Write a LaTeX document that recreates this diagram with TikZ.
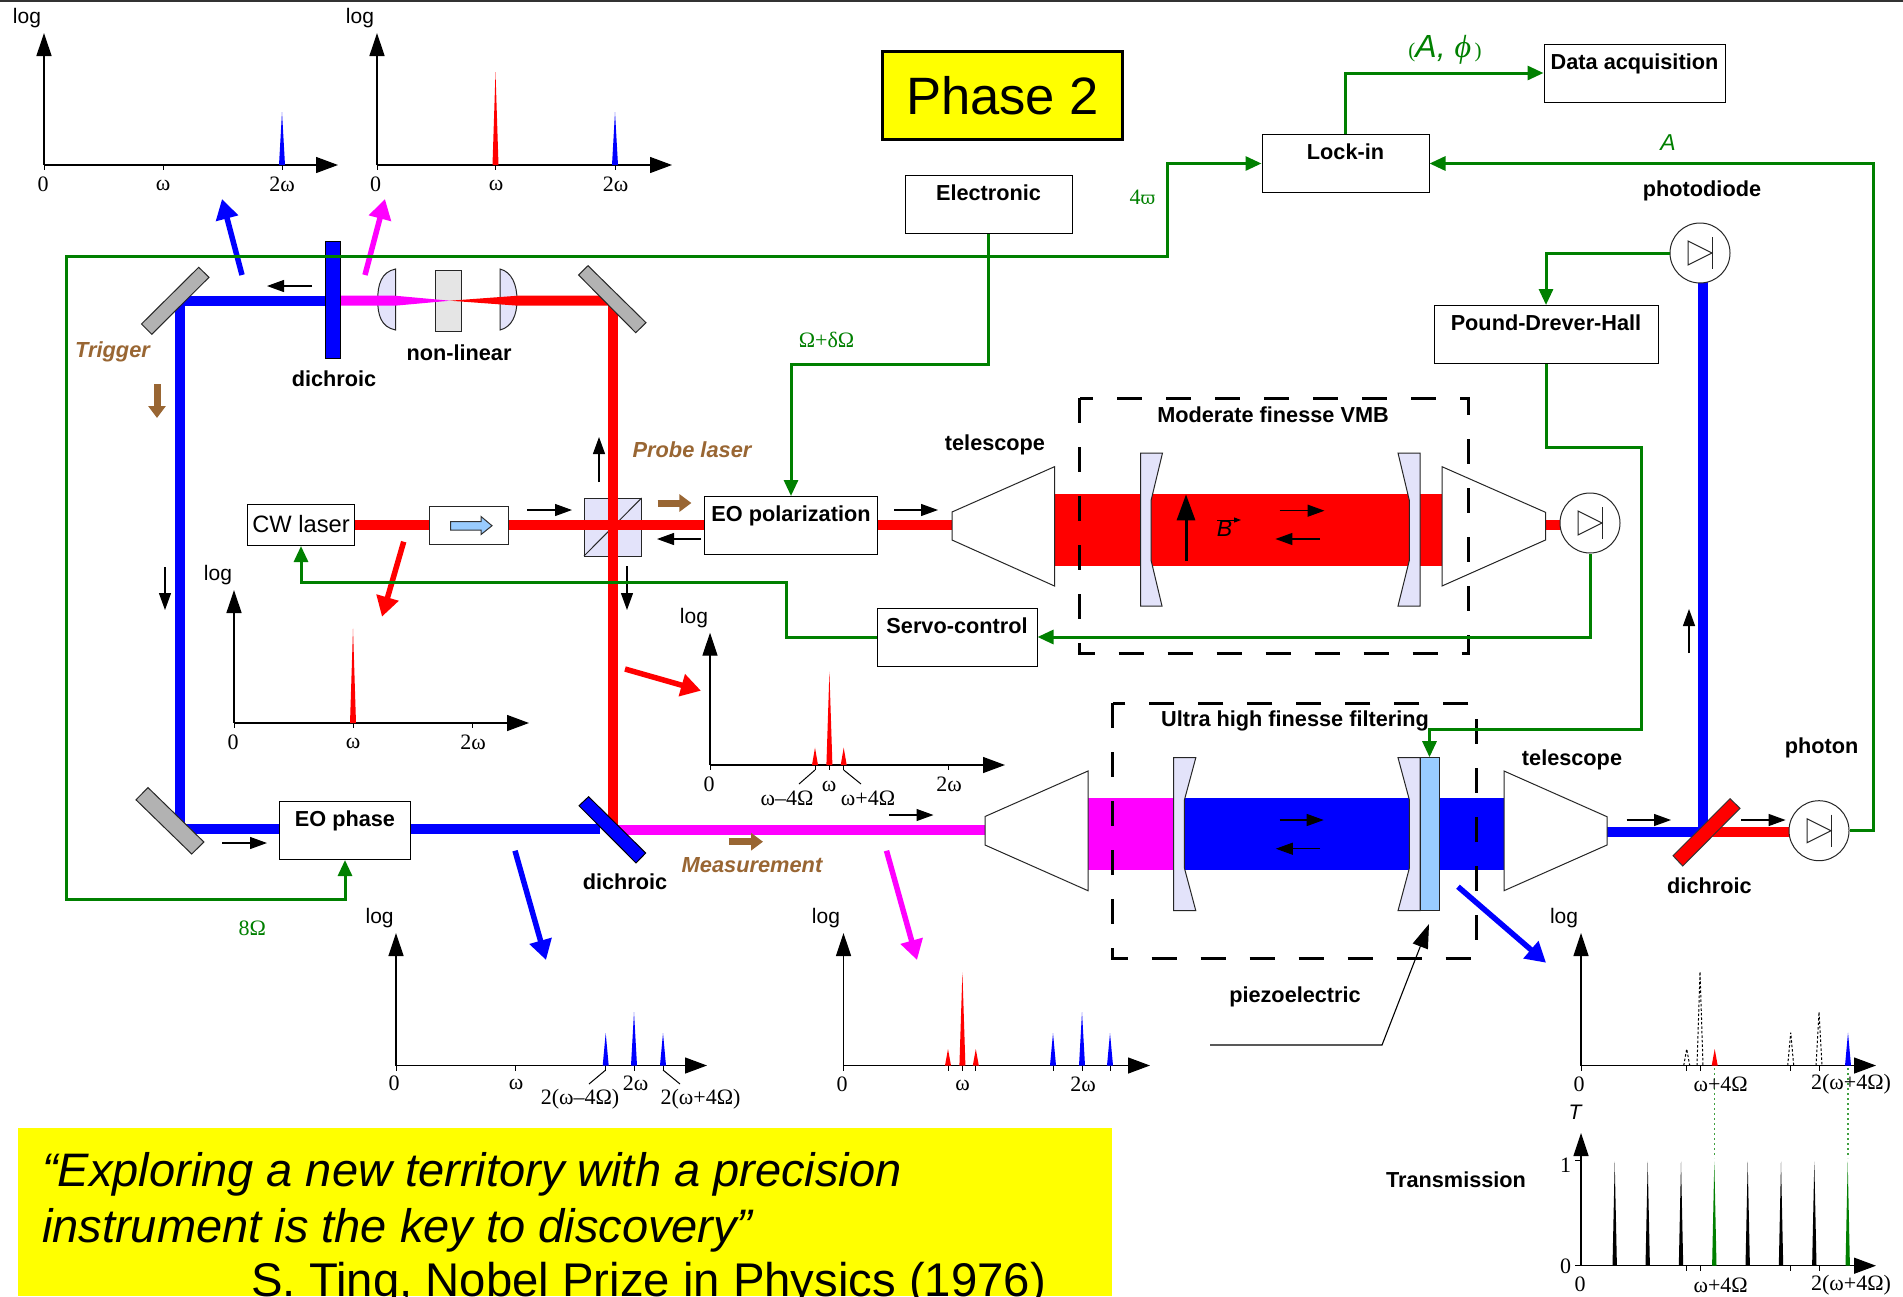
\documentclass[tikz,border=0pt]{standalone}
\usepackage{fontspec}
\setmainfont{Liberation Sans}
\newfontfamily\tms{Liberation Serif}
\newfontfamily\djv{DejaVu Serif}
\usetikzlibrary{arrows.meta,calc}
\definecolor{gr}{RGB}{0,128,0}
\definecolor{brn}{RGB}{153,102,51}
\definecolor{lav}{RGB}{227,227,250}
\definecolor{sky}{RGB}{153,204,255}
\definecolor{mir}{RGB}{178,178,178}
\definecolor{mg}{RGB}{255,0,255}
\definecolor{yl}{RGB}{255,255,0}
\definecolor{rd}{RGB}{255,0,0}
\definecolor{bu}{RGB}{0,0,255}
\tikzset{
 bl/.style={font=\fontsize{21.7}{21.7}\selectfont\bfseries,inner sep=0pt},
 sl/.style={font=\fontsize{21}{21}\selectfont,inner sep=0pt},
 tl/.style={font=\fontsize{22}{22}\selectfont\tms,inner sep=0pt},
 gl/.style={font=\fontsize{22}{22}\selectfont\tms,inner sep=0pt,text=gr},
 brl/.style={font=\fontsize{21.8}{21.8}\selectfont\bfseries\itshape,inner sep=0pt,text=brn},
 boxt/.style={draw=black,fill=white,line width=1pt,inner sep=0pt,font=\fontsize{21.7}{21.7}\selectfont\bfseries,text height=25pt,text depth=33pt},
 beam/.style={line width=10pt},
 sig/.style={draw=gr,line width=3pt,arrows={-{Triangle[length=16pt,width=14pt]}}},
 small/.style={line width=1.2pt,-{Triangle[length=17pt,width=12pt]}},
 big/.style={line width=5.5pt,-{Triangle[length=20pt,width=22pt]}},
 brar/.style={draw=brn,line width=7pt,-{Triangle[length=12pt,width=17pt]}},
 axl/.style={line width=1.3pt},
 optic/.style={draw=black!85,line width=1pt},
 dbox/.style={draw=black,line width=3pt,dash pattern=on 25pt off 24pt},
 dpk/.style={line width=1pt,dash pattern=on 2.5pt off 2pt},
 dio/.style={draw=black!85,fill=white,circle,minimum size=60pt,inner sep=0pt,line width=1pt}
}
\newcommand\pk[5]{\fill[#5] (#1-#4,#2) -- (#1,#3) -- (#1+#4,#2) -- cycle;}
\newcommand\dpeak[4]{\draw[dpk] (#1-3,#2) -- (#1,#3) -- (#1+3,#2);}
\newcommand\tk[2]{\draw[line width=1pt] (#1,#2) -- (#1,#2+5);}
\newcommand\axs[4]{%
 \draw[axl,-{Triangle[length=23pt,width=15pt]}] (#1,#2) -- (#1,#3);
 \draw[axl,-{Triangle[length=22pt,width=16pt]}] (#1,#2) -- (#4,#2);}
\newcommand\dsym[2]{%
 \draw[line width=1pt,black!85] (#1-12,#2-12) -- (#1+12,#2) -- (#1-12,#2+12) -- cycle;
 \draw[line width=1pt,black!85] (#1+12,#2-16) -- (#1+12,#2+16);}
\begin{document}
\begin{tikzpicture}[x=1pt,y=-1pt]
\useasboundingbox (0,0) rectangle (1903,1296);
\clip (0,0) rectangle (1903,1296);
\fill[white] (0,0) rectangle (1903,1296);
\draw[line width=2pt,black!80] (0,0.5) -- (1903,0.5);

% --- components under the beams
\filldraw[fill=lav,optic] (395.5,269) .. controls (381,272) and (377.7,285) .. (377.7,300) .. controls (377.7,315) and (381,327) .. (395.5,330) -- cycle;
\filldraw[fill=lav,optic] (500,269) .. controls (512,272) and (517,285) .. (517,300) .. controls (517,315) and (512,327) .. (500,330) -- cycle;
\filldraw[fill=black!10,optic] (435,270) rectangle (461,331);
\filldraw[fill=lav,optic] (584,498) rectangle (641.6,556);
\draw[optic] (584,556) -- (641.6,498);

% --- beams
\draw[beam,bu] (180,300.7) -- (325,300.7);
\draw[beam,bu] (180,296) -- (180,834);
\fill[mg] (340,295.7) -- (395,295.7) -- (450,300.7) -- (395,305.7) -- (340,305.7) -- cycle;
\fill[rd] (450,300.7) -- (518,295.7) -- (610,295.7) -- (610,305.7) -- (518,305.7) -- cycle;
\draw[beam,rd] (613,296) -- (613,832);
\draw[beam,rd] (354,525) -- (952,525);
\draw[beam,bu] (175,829) -- (600,829);
\draw[beam,mg] (615,830) -- (985,830);
\fill[rd] (1054.5,494) rectangle (1442,565.7);
\draw[beam,rd] (1545,525) -- (1562,525);
\fill[mg] (1088,798) rectangle (1184,870);
\fill[bu] (1184,798) rectangle (1504,870);
\draw[beam,bu] (1607,831.7) -- (1703,831.7);
\draw[beam,rd] (1703,831.7) -- (1790,831.7);
\draw[beam,bu] (1703,280) -- (1703,831);

% --- mirrors and other optics
\filldraw[fill=mir,optic] (198.7,267.3) -- (209,277.3) -- (151.8,334.3) -- (141.5,324) -- cycle;
\filldraw[fill=mir,optic] (588,265.7) -- (578.6,275) -- (635.7,332.7) -- (646,322.7) -- cycle;
\filldraw[fill=mir,optic] (148,787.6) -- (136,799.8) -- (191.7,854) -- (203.9,842) -- cycle;
\filldraw[fill=bu,draw=black,line width=1pt] (325,241) rectangle (340,358);
\filldraw[fill=bu,draw=black,line width=1pt] (588.6,796.7) -- (579,805.7) -- (636,863) -- (645.7,853) -- cycle;
\filldraw[fill=rd,draw=black!80,line width=1pt] (1730,798.7) -- (1740,808.3) -- (1682.7,866) -- (1673,855.7) -- cycle;
% telescopes
\filldraw[fill=white,optic] (952,512) -- (1054.5,466.7) -- (1054.5,586) -- (952,540) -- cycle;
\filldraw[fill=white,optic] (1442,466.7) -- (1545.5,512.3) -- (1545.5,540) -- (1442,586) -- cycle;
\filldraw[fill=white,optic] (985,816.5) -- (1088,771) -- (1088,890.7) -- (985,845) -- cycle;
\filldraw[fill=white,optic] (1504,771) -- (1607,816.7) -- (1607,845) -- (1504,890.7) -- cycle;
% cavity mirrors
\filldraw[fill=lav,optic] (1140.6,453) -- (1162.5,453) -- (1151,500.7) -- (1151,560) -- (1162,606) -- (1140.6,606) -- cycle;
\filldraw[fill=lav,optic] (1398,453) -- (1420,453) -- (1420,606) -- (1398,606) -- (1409.4,560) -- (1409.4,500.7) -- cycle;
\filldraw[fill=lav,optic] (1173.5,757.7) -- (1195.8,757.7) -- (1184.4,800) -- (1184.4,868) -- (1195.8,910.7) -- (1173.5,910.7) -- cycle;
\filldraw[fill=lav,optic] (1398,757.7) -- (1420,757.7) -- (1420,910.7) -- (1398,910.7) -- (1409.4,868) -- (1409.4,800) -- cycle;
\node[draw=black!85,fill=sky,line width=1pt,inner sep=0pt,minimum width=19pt,minimum height=153pt] (piezo) at (1429.5,834.2) {};

% --- boxes
\node[boxt,minimum width=167pt] (elec) at (988.5,204) {Electronic};
\node[boxt,minimum width=167pt] (lockin) at (1345.5,163.5) {Lock-in};
\node[boxt,minimum width=181pt] (data) at (1634.5,73) {Data acquisition};
\node[boxt,minimum width=224pt] (pdh) at (1546,334.5) {Pound-Drever-Hall};
\node[boxt,minimum width=172.5pt] (eopol) at (791,525.5) {EO polarization};
\node[boxt,minimum width=160pt] (servo) at (957,637) {Servo-control};
\node[boxt,minimum width=131pt] (eophase) at (345,830.5) {EO phase};
\node[boxt,minimum width=107pt,font=\fontsize{23.7}{23.7}\selectfont,text height=28pt,text depth=13pt] (cw) at (301,525) {CW laser};
\node[draw=black!85,fill=white,line width=1pt,inner sep=0pt,minimum width=79pt,minimum height=38pt] (iso) at (468.7,525) {};
\filldraw[fill=sky,draw=black!80,line width=1pt] (450.6,521.5) -- (481,521.5) -- (481,516.5) -- (492,525.7) -- (481,534.5) -- (481,530) -- (450.6,530) -- cycle;
\node[draw=black,fill=yl,line width=3.5pt,inner sep=0pt,minimum width=240pt,minimum height=88pt,font=\fontsize{52.6}{52.6}\selectfont] (phase) at (1002.5,95.5) {\raisebox{-1pt}{Phase 2}};

% --- diodes
\node[dio] (dtop) at (1700,253) {}; \dsym{1700}{253}
\node[dio] (dred) at (1590,523) {}; \dsym{1590}{523}
\node[dio] (dbot) at (1819,830.7) {}; \dsym{1819}{830.7}

% --- small direction arrows
\draw[small] (312,286) -- (267,286);
\draw[small] (165,567) -- (165,610);
\draw[small] (527,510) -- (572,510);
\draw[small] (701,539) -- (657,539);
\draw[small] (894,510) -- (938,510);
\draw[small] (599,482) -- (599,437);
\draw[small] (627,566) -- (627,610);
\draw[small] (222,843) -- (267,843);
\draw[small] (889,815) -- (933.5,815);
\draw[small] (1279.5,510.7) -- (1324.5,510.7);
\draw[small] (1320,539) -- (1275.4,539);
\draw[small] (1279.6,820) -- (1323.7,820);
\draw[small] (1320,848.7) -- (1275.8,848.7);
\draw[small] (1626.7,820) -- (1671,820);
\draw[small] (1741,820) -- (1785.6,820);
\draw[small] (1689,653) -- (1689,609);
% magnetic field
\draw[line width=3pt,-{Triangle[length=26pt,width=18pt]}] (1186,561) -- (1186,494.3);
\node[font=\fontsize{23}{23}\selectfont\itshape,inner sep=0pt] (bfield) at (1224.6,529) {B};
\draw[line width=1pt,-{Triangle[length=7pt,width=5pt]}] (1217.4,520) -- (1241,520);

% --- brown arrows
\draw[brar] (157,384) -- (157,418);
\draw[brar] (657.5,503) -- (691.4,503);
\draw[brar] (728.6,841.7) -- (763,841.7);

% --- coloured pointers
\draw[big,bu] (242,275) -- (222,199);
\draw[big,mg] (365,275) -- (385,199);
\draw[big,rd] (403.7,541.7) -- (382,616.7);
\draw[big,rd] (625,669) -- (701,690.7);
\draw[big,bu] (515,850.7) -- (546,960);
\draw[big,mg] (886.5,850.7) -- (917,960);
\draw[big,bu] (1458,886.7) -- (1546,962.7);

% --- dashed enclosures
\draw[dbox] (1079.5,398) rectangle (1468,653);
\draw[dbox] (1112.6,703) rectangle (1476.5,958);

% --- signal connectors
\coordinate (gA) at (66,899);
\coordinate (gB) at (66,256.5);
\coordinate (gC) at (1167,256.5);
\coordinate (gD) at (890,364);
\coordinate (gE) at (1873,400);
\coordinate (gF) at (1600,447);
\coordinate (gG) at (1641.5,600);
\coordinate (gH) at (1500,729);
\coordinate (gI) at (786.5,610);
\coordinate (gJ) at (500,582.7);
\draw[sig,arrows={{Triangle[length=16pt,width=14pt]}-{Triangle[length=16pt,width=14pt]}}] (eophase.south) |- (gA) -- (gB) -- (gC) |- (lockin.west);
\draw[sig] (elec.south) |- (gD) -| (eopol.north);
\draw[sig] (lockin.north) |- (data.west);
\draw[sig] (dbot.east) -| (gE) |- (lockin.east);
\draw[sig] (dtop.west) -| (pdh.north);
\draw[sig] (pdh.south) |- (gF) -| (gG) |- (gH) -| (piezo.north);
\draw[sig] (dred.south) |- (servo.east);
\draw[sig] (servo.west) -| (gI) |- (gJ) -| (cw.south);
% piezo pointer
\coordinate (pzA) at (1210,1045);
\coordinate (pzB) at (1382,1045);
\coordinate (pzC) at (1429,924);
\draw[line width=1.1pt,-{Triangle[length=24pt,width=16pt]}] (pzA) -- (pzB) -- (pzC);

% --- text labels
\node[bl] (tnl) at (459,352.5) {non-linear};
\node[bl] (td1) at (334,379) {dichroic};
\node[bl] (td2) at (625,881.7) {dichroic};
\node[bl] (td3) at (1709.4,885.7) {dichroic};
\node[bl] (ttel1) at (995,445) {telescope};
\node[bl] (ttel2) at (1572,760) {telescope};
\node[bl] (tphd) at (1702,190.5) {photodiode};
\node[bl] (tpho) at (1821.5,748) {photon};
\node[bl] (tmod) at (1273,414.5) {Moderate finesse VMB};
\node[bl] (tult) at (1295,721) {Ultra high finesse filtering};
\node[bl] (tpie) at (1295,997) {piezoelectric};
\node[bl] (ttra) at (1456,1180) {Transmission};
\node[brl] (ttrg) at (112.5,352) {Trigger};
\node[brl] (tprb) at (692,450) {Probe laser};
\node[brl] (tmea) at (752,865) {Measurement};
\node[gl] (t4w) at (1142.5,197) {4{\djv\fontsize{18}{18}\selectfont ϖ}};
\node[gl] (tow) at (826.5,339.6) {Ω+δΩ};
\node[gl] (t8o) at (252.4,928) {8Ω};
\node[text=gr,inner sep=0pt] (taph) at (1445,50) {{\fontsize{21}{21}\selectfont\tms(}{\fontsize{32}{32}\selectfont\itshape A, }{\fontsize{32}{32}\selectfont\tms\itshape ϕ}{\fontsize{21}{21}\selectfont\tms\,)}};
\node[text=gr,inner sep=0pt,font=\fontsize{23}{23}\selectfont\itshape] (ta) at (1668,143) {A};

% --- spectrum 1
\axs{44}{165}{33}{338}
\tk{44}{165}\tk{163}{165}\tk{282}{165}
\pk{282}{165}{112}{3}{bu}
\node[sl] (s1l) at (27,18) {log};
\node[tl] (s1a) at (43,184) {0};
\node[tl] (s1b) at (163,185) {ω};
\node[tl] (s1c) at (282,184) {2ω};
% --- spectrum 2
\axs{377}{165}{33}{672}
\tk{377}{165}\tk{495.5}{165}\tk{615}{165}
\pk{495.5}{165}{72}{3}{rd}
\pk{615}{165}{112}{3}{bu}
\node[sl] (s2l) at (360,18) {log};
\node[tl] (s2a) at (375.5,184) {0};
\node[tl] (s2b) at (496,185) {ω};
\node[tl] (s2c) at (615.5,184) {2ω};
% --- spectrum 3
\axs{234}{723}{590}{529}
\tk{234}{723}\tk{353}{723}\tk{472}{723}
\pk{353}{723}{628.6}{3}{rd}
\node[sl] (s3l) at (218,575.5) {log};
\node[tl] (s3a) at (233,742) {0};
\node[tl] (s3b) at (353,743) {ω};
\node[tl] (s3c) at (473,742) {2ω};
% --- spectrum 4
\axs{710}{765}{632.7}{1005}
\tk{710}{765}\tk{815}{765}\tk{829.4}{765}\tk{843.7}{765}\tk{948.6}{765}
\pk{815}{765}{747.7}{3}{rd}
\pk{829.4}{765}{671.7}{3}{rd}
\pk{843.7}{765}{747.7}{3}{rd}
\draw[line width=1pt] (815,770) -- (799,784);
\draw[line width=1pt] (843.7,770) -- (861,784);
\node[sl] (s4l) at (694,618.5) {log};
\node[tl] (s4a) at (709,784) {0};
\node[tl] (s4b) at (829,786) {ω};
\node[tl] (s4c) at (949,784) {2ω};
\node[tl] (s4d) at (787,798.7) {ω–4Ω};
\node[tl] (s4e) at (868,798.7) {ω+4Ω};
% --- spectrum 5
\axs{396}{1065.5}{933}{707}
\tk{396}{1065.5}\tk{515.7}{1065.5}\tk{605.7}{1065.5}\tk{634}{1065.5}\tk{663}{1065.5}
\pk{605.7}{1065.5}{1033}{3}{bu}
\pk{634}{1065.5}{1012}{3}{bu}
\pk{663}{1065.5}{1033}{3}{bu}
\draw[line width=1pt] (605.7,1070) -- (589,1084);
\draw[line width=1pt] (663,1070) -- (680,1084);
\node[sl] (s5l) at (379.6,918.5) {log};
\node[tl] (s5a) at (394,1083) {0};
\node[tl] (s5b) at (516,1084) {ω};
\node[tl] (s5c) at (635.7,1083) {2ω};
\node[tl] (s5d) at (580,1099) {2(ω–4Ω)};
\node[tl] (s5e) at (700.5,1099) {2(ω+4Ω)};
% --- spectrum 6
\axs{843.5}{1065.5}{933}{1150}
\tk{843.5}{1065.5}\tk{948}{1065.5}\tk{962.4}{1065.5}\tk{975.8}{1065.5}\tk{1053}{1065.5}\tk{1082}{1065.5}\tk{1110}{1065.5}
\pk{948}{1065.5}{1049}{3}{rd}
\pk{962.4}{1065.5}{972.3}{3}{rd}
\pk{975.8}{1065.5}{1049}{3}{rd}
\pk{1053}{1065.5}{1033}{3}{bu}
\pk{1082}{1065.5}{1012}{3}{bu}
\pk{1110}{1065.5}{1033}{3}{bu}
\node[sl] (s6l) at (826,918.5) {log};
\node[tl] (s6a) at (842,1084) {0};
\node[tl] (s6b) at (962.6,1085) {ω};
\node[tl] (s6c) at (1083,1084) {2ω};
% --- spectrum 7
\draw[gr!75,line width=1.1pt,dash pattern=on 2pt off 3pt] (1714.7,1068) -- (1714.7,1158);
\draw[gr!75,line width=1.1pt,dash pattern=on 2pt off 3pt] (1848,1068) -- (1848,1158);
\axs{1581}{1065.5}{933}{1876}
\tk{1581}{1065.5}\tk{1686.7}{1065.5}\tk{1700}{1065.5}\tk{1790.7}{1065.5}\tk{1819}{1065.5}
\dpeak{1686.7}{1065.5}{1049}{}
\dpeak{1700}{1065.5}{971.7}{}
\dpeak{1790.7}{1065.5}{1032.7}{}
\dpeak{1819}{1065.5}{1012}{}
\pk{1714.7}{1065.5}{1049}{3}{rd}
\pk{1848}{1065.5}{1032.7}{3}{bu}
\node[sl] (s7l) at (1564,918.5) {log};
\node[tl] (s7a) at (1579,1084) {0};
\node[tl] (s7b) at (1720.7,1084) {ω+4Ω};
\node[tl] (s7c) at (1851,1084) {2(ω+4Ω)};
% --- transmission
\axs{1581}{1265.7}{1133}{1876}
\draw[line width=1pt] (1575,1160) -- (1581,1160);
\draw[line width=1pt] (1575,1265.7) -- (1581,1265.7);
\tk{1686.7}{1265.7}\tk{1700}{1265.7}\tk{1790.7}{1265.7}\tk{1819}{1265.7}
\foreach \xp in {1614.7,1647.7,1681,1747.7,1781,1814.3} {\pk{\xp}{1265.7}{1161.7}{2.2}{black}}
\pk{1714.3}{1265.7}{1161.7}{2.2}{gr}
\pk{1847.7}{1265.7}{1161.7}{2.2}{gr}
\node[font=\fontsize{21}{21}\selectfont\itshape,inner sep=0pt] (s8t) at (1575,1112) {T};
\node[tl] (s8o) at (1565.7,1165) {1};
\node[tl] (s8z) at (1565.7,1266) {0};
\node[tl] (s8a) at (1580,1284) {0};
\node[tl] (s8b) at (1720.7,1285) {ω+4Ω};
\node[tl] (s8c) at (1851,1285) {2(ω+4Ω)};

% --- quotation
\fill[yl] (18,1128) rectangle (1112,1296);
\node[anchor=base west,inner sep=0pt,font=\fontsize{47}{47}\selectfont\itshape] (q1) at (42,1186) {“Exploring a new territory with a precision};
\node[anchor=base west,inner sep=0pt,font=\fontsize{47}{47}\selectfont\itshape] (q2) at (42,1242) {instrument is the key to discovery”};
\node[anchor=base west,inner sep=0pt,font=\fontsize{47.3}{47.3}\selectfont] (q3) at (251,1296) {S. Ting, Nobel Prize in Physics (1976)};
\end{tikzpicture}
\end{document}
